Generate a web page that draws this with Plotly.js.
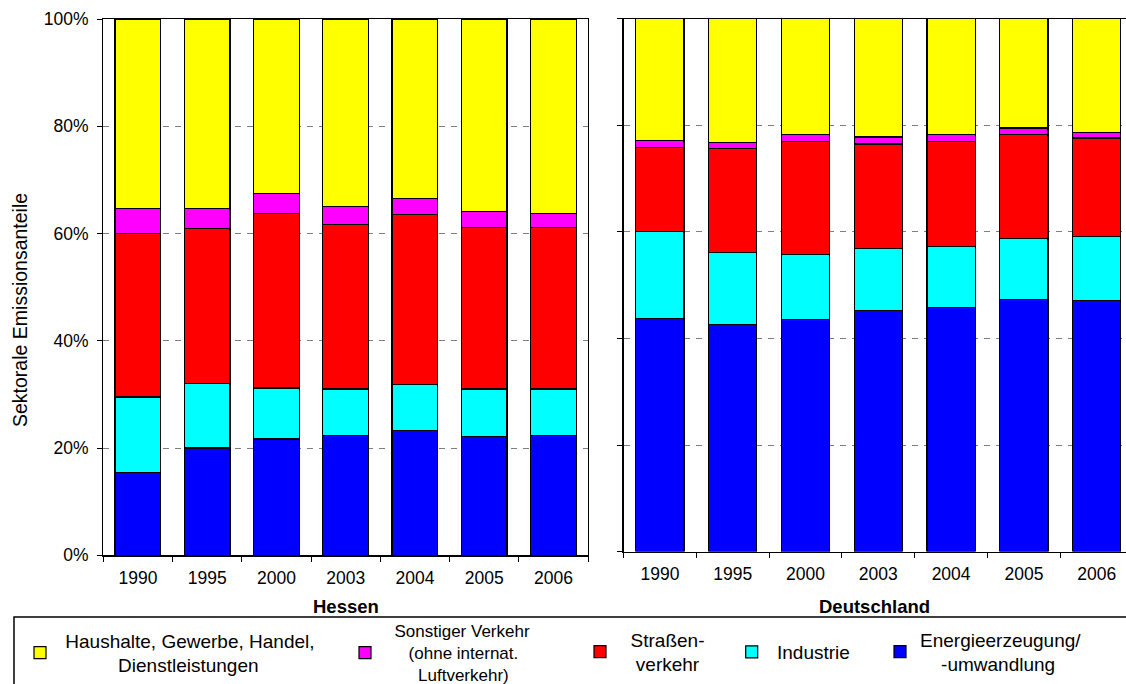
<!DOCTYPE html>
<html>
<head>
<meta charset="utf-8">
<script src="https://cdn.plot.ly/plotly-3.0.1.min.js"></script>
<style>
html, body { margin: 0; padding: 0; overflow: hidden; background: #fff; }
#chart { width: 1126px; height: 684px; }
</style>
</head>
<body>
<div id="chart"></div>
<script>
// Categories
const years = ['1990', '1995', '2000', '2003', '2004', '2005', '2006'];

// Hessen – sector shares in %
const hesEnergie   = [15.5, 20.0, 21.7, 22.4, 23.2, 22.1, 22.4];
const hesIndustrie = [14.0, 12.1,  9.5,  8.6,  8.7,  8.9,  8.6];
const hesStrasse   = [30.5, 28.8, 32.6, 30.7, 31.6, 30.1, 30.1];
const hesSonstiger = [ 4.7,  3.8,  3.6,  3.3,  3.0,  3.0,  2.7];
const hesHaushalte = [35.3, 35.3, 32.6, 35.0, 33.5, 35.9, 36.2];

// Deutschland – sector shares in %
const deEnergie   = [43.7, 42.6, 43.5, 45.2, 45.8, 47.3, 47.1];
const deIndustrie = [16.3, 13.5, 12.2, 11.7, 11.4, 11.4, 12.0];
const deStrasse   = [15.8, 19.5, 21.3, 19.6, 19.8, 19.5, 18.5];
const deSonstiger = [ 1.3,  1.2,  1.3,  1.3,  1.2,  1.3,  1.0];
const deHaushalte = [22.9, 23.2, 21.7, 22.2, 21.8, 20.5, 21.4];

// Sector names (legend labels)
const sectorNames = [
  'Energieerzeugung/<br>&nbsp;&nbsp;&nbsp;&nbsp;-umwandlung',
  '&nbsp;Industrie',
  '&nbsp;&nbsp;Straßen-<br>&nbsp;&nbsp;&nbsp;verkehr',
  '&nbsp;&nbsp;Sonstiger Verkehr<br>&nbsp;&nbsp;&nbsp;&nbsp;&nbsp;(ohne internat.<br>&nbsp;&nbsp;&nbsp;&nbsp;&nbsp;&nbsp;&nbsp;Luftverkehr)',
  '&nbsp;Haushalte, Gewerbe, Handel,<br>&nbsp;&nbsp;&nbsp;&nbsp;&nbsp;&nbsp;&nbsp;&nbsp;&nbsp;&nbsp;&nbsp;Dienstleistungen'
];
const sectorColors = ['#0000FF', '#00FFFF', '#FF0000', '#FF00FF', '#FFFF00'];
const legendIds = ['legend5', 'legend4', 'legend3', 'legend2', 'legend'];

const hesSeries = [hesEnergie, hesIndustrie, hesStrasse, hesSonstiger, hesHaushalte];
const deSeries  = [deEnergie, deIndustrie, deStrasse, deSonstiger, deHaushalte];

const W = 1126, H = 684;
const FONT = 'Liberation Sans, Arial, sans-serif';

const traces = [];
hesSeries.forEach((vals, i) => {
  traces.push({
    type: 'bar', x: years, y: vals, name: sectorNames[i],
    xaxis: 'x', yaxis: 'y',
    marker: { color: sectorColors[i], line: { color: '#000', width: 1.2 } },
    legend: legendIds[i], showlegend: true, hoverinfo: 'x+y'
  });
});
deSeries.forEach((vals, i) => {
  traces.push({
    type: 'bar', x: years, y: vals, name: sectorNames[i],
    xaxis: 'x2', yaxis: 'y2',
    marker: { color: sectorColors[i], line: { color: '#000', width: 1.2 } },
    showlegend: false, hoverinfo: 'x+y'
  });
});

function px(x) { return x / W; }
function py(y) { return 1 - y / H; }

const xCommon = {
  type: 'category', showline: true, linecolor: '#000', linewidth: 1.2, mirror: true,
  ticks: 'outside', ticklen: 5, tickcolor: '#000', tickson: 'boundaries',
  showgrid: false, zeroline: false, fixedrange: true,
  tickfont: { family: FONT, size: 17.5, color: '#000' }, ticklabelstandoff: 6
};
const yCommon = {
  range: [0, 100], dtick: 20, tick0: 0, showline: true, linecolor: '#000', linewidth: 1.2,
  mirror: true, ticks: 'outside', ticklen: 5, tickcolor: '#000',
  showgrid: true, gridcolor: '#7f7f7f', gridwidth: 1, griddash: '6px,6px',
  zeroline: false, fixedrange: true, ticksuffix: '%',
  tickfont: { family: FONT, size: 17.5, color: '#000' }
};

function legendAt(xLeft, yMid, size) {
  return {
    x: px(xLeft), xanchor: 'left', y: py(yMid), yanchor: 'middle',
    bgcolor: 'rgba(0,0,0,0)', borderwidth: 0, orientation: 'v',
    font: { family: FONT, size: size, color: '#000' }
  };
}

// right panel: category width of the original (72.8 px) with its right end cut off by the frame
const rightLeft = 623.5, catW2 = 72.8;
const rightRangeEnd = -0.5 + (W - rightLeft) / catW2;

const layout = {
  width: W, height: H, autosize: false,
  margin: { l: 0, r: 0, t: 0, b: 0, autoexpand: false },
  paper_bgcolor: '#fff', plot_bgcolor: '#fff',
  barmode: 'stack', bargap: 0.34,
  font: { family: FONT, color: '#000' },
  xaxis: Object.assign({}, xCommon, { domain: [px(103.3), px(588.1)], anchor: 'y' }),
  yaxis: Object.assign({}, yCommon, { domain: [py(555.3), py(19)], anchor: 'x', ticklabelstandoff: 5 }),
  xaxis2: Object.assign({}, xCommon, { domain: [px(rightLeft), 1], anchor: 'y2', range: [-0.5, rightRangeEnd] }),
  yaxis2: Object.assign({}, yCommon, { domain: [py(551.6), py(18.7)], anchor: 'x2', showticklabels: false, mirror: false }),
  legend:  legendAt(20, 653, 19),
  legend2: legendAt(345, 653, 17),
  legend3: legendAt(580, 652, 19),
  legend4: legendAt(731.7, 652, 19),
  legend5: legendAt(880, 652, 19),
  shapes: [{
    type: 'rect', xref: 'paper', yref: 'paper',
    x0: px(14), x1: 1.05, y0: -0.1, y1: py(617),
    line: { color: '#000', width: 1.5 }, fillcolor: 'rgba(0,0,0,0)', layer: 'above'
  }],
  annotations: [
    { text: 'Sektorale Emissionsanteile', xref: 'paper', yref: 'paper', x: px(20), y: py(310),
      xanchor: 'center', yanchor: 'middle', textangle: -90, showarrow: false,
      font: { family: FONT, size: 19.5, color: '#000' } },
    { text: '<b>Hessen</b>', xref: 'x domain', yref: 'paper', x: 0.5, y: py(606),
      xanchor: 'center', yanchor: 'middle', showarrow: false,
      font: { family: FONT, size: 18.5, color: '#000' } },
    { text: '<b>Deutschland</b>', xref: 'paper', yref: 'paper', x: px(874), y: py(606),
      xanchor: 'center', yanchor: 'middle', showarrow: false,
      font: { family: FONT, size: 18.5, color: '#000' } }
  ]
};

Plotly.newPlot('chart', traces, layout, { displayModeBar: false, staticPlot: true });
</script>
</body>
</html>
